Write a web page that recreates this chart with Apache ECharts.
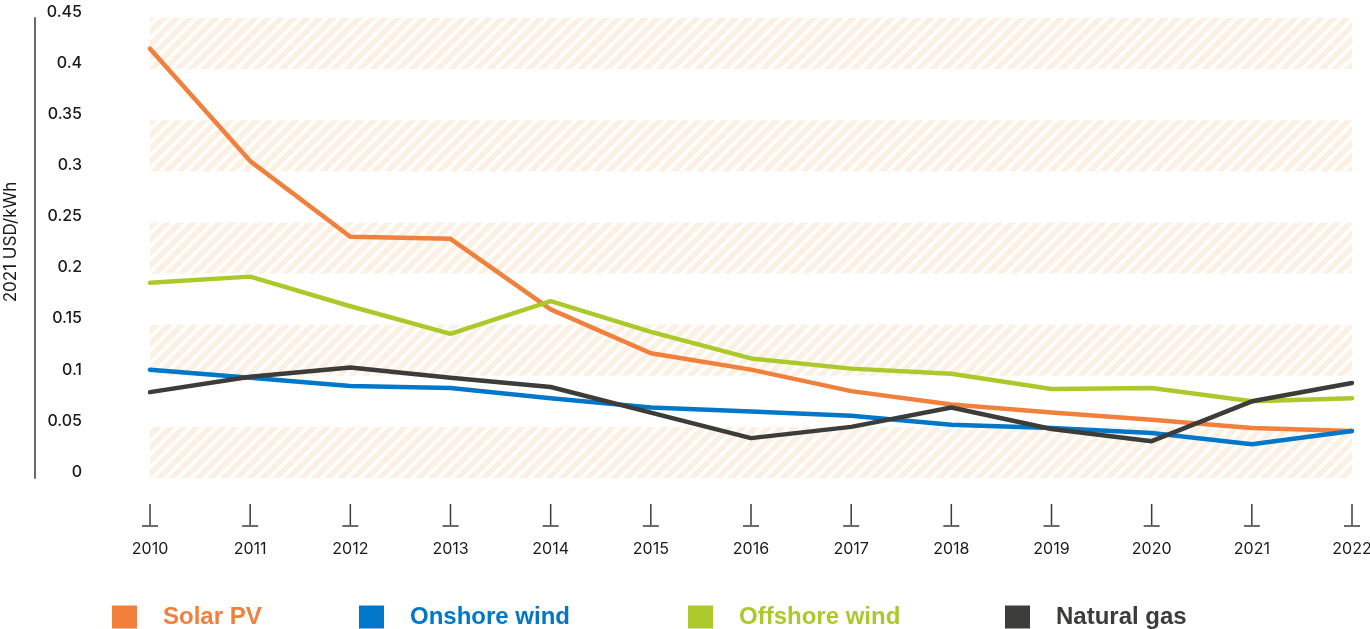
<!DOCTYPE html>
<html>
<head>
<meta charset="utf-8">
<title>LCOE 2010-2022</title>
<script src="https://cdn.jsdelivr.net/npm/echarts@6/dist/echarts.min.js"></script>
<style>
  html, body { margin: 0; padding: 0; background: #fff; }
  #chart { width: 1370px; height: 629px; }
</style>
</head>
<body>
<div id="chart"></div>
<script>
var years = ['2010', '2011', '2012', '2013', '2014', '2015', '2016', '2017', '2018', '2019', '2020', '2021', '2022'];
var solarPV = [0.420, 0.310, 0.236, 0.234, 0.165, 0.122, 0.106, 0.085, 0.072, 0.064, 0.057, 0.049, 0.046];
var onshoreWind = [0.106, 0.098, 0.090, 0.088, 0.078, 0.069, 0.065, 0.061, 0.052, 0.049, 0.044, 0.033, 0.046];
var offshoreWind = [0.191, 0.197, 0.168, 0.141, 0.173, 0.143, 0.117, 0.107, 0.102, 0.087, 0.088, 0.075, 0.078];
var naturalGas = [0.084, 0.099, 0.108, 0.098, 0.089, 0.064, 0.039, 0.050, 0.069, 0.048, 0.036, 0.075, 0.093];
var seriesNames = ['Solar PV', 'Onshore wind', 'Offshore wind', 'Natural gas'];
var seriesColors = ['#f0803c', '#0077c8', '#abc92a', '#3c3c3b'];

!function(){
	var dom = document.getElementById('chart');
	var myChart = echarts.init(dom, null, {renderer: 'canvas'});

	// diagonal stripe tile for the shaded bands
	function stripes() {
		var s = 13;
		var c = document.createElement('canvas');
		c.width = s; c.height = s;
		var ctx = c.getContext('2d');
		ctx.strokeStyle = '#fbf0e2';
		ctx.lineWidth = 5.5;
		ctx.beginPath();
		ctx.moveTo(0, s); ctx.lineTo(s, 0);
		ctx.moveTo(-s / 2, s / 2); ctx.lineTo(s / 2, -s / 2);
		ctx.moveTo(s / 2, s * 1.5); ctx.lineTo(s * 1.5, s / 2);
		ctx.stroke();
		return {image: c, repeat: 'repeat'};
	}

	var font = 'Inter, "Noto Sans", sans-serif';
	var legendLeft = [112, 359, 688, 1005];
	var legends = [];
	var series = [];
	var lists = [solarPV, onshoreWind, offshoreWind, naturalGas];
	for (var i = 0; i < seriesNames.length; i++) {
		legends.push({
			left: legendLeft[i],
			top: 605,
			padding: 0,
			itemWidth: 25,
			itemHeight: 23,
			itemGap: 0,
			icon: 'rect',
			selectedMode: false,
			data: [{name: seriesNames[i], textStyle: {color: seriesColors[i]}}],
			textStyle: {
				fontFamily: '"Liberation Sans", Arial, sans-serif',
				fontWeight: 'bold',
				fontSize: 24,
				padding: [0, 0, 0, 21]
			}
		});
		series.push({
			name: seriesNames[i],
			type: 'line',
			data: lists[i],
			symbol: 'none',
			color: seriesColors[i],
			lineStyle: {width: 4.5, cap: 'round', join: 'round'}
		});
	}

	var option = {
		animation: false,
		backgroundColor: '#fff',
		legend: legends,
		grid: {left: 150, right: 18, top: 18, bottom: 151, outerBoundsMode: 'none', containLabel: false},
		xAxis: {
			type: 'category',
			data: years,
			boundaryGap: false,
			axisLine: {show: false},
			axisTick: {show: false},
			axisLabel: {
				margin: 26,
				// tick stem + foot drawn as rich-text boxes above the year
				formatter: function (v) { return '{vt| }\n{bar| }\n{yr|' + v + '}'; },
				rich: {
					vt: {width: 1.5, height: 21, lineHeight: 21, backgroundColor: '#3a3a3a', fontSize: 1},
					bar: {width: 16, height: 1.5, lineHeight: 2, backgroundColor: '#3a3a3a', fontSize: 1},
					yr: {fontFamily: font, fontSize: 16, color: '#1a1a1a', lineHeight: 44}
				}
			}
		},
		yAxis: {
			type: 'value',
			min: 0,
			max: 0.45,
			interval: 0.05,
			offset: 115,
			name: '2021 USD/kWh',
			nameLocation: 'middle',
			nameGap: 16,
			nameTextStyle: {fontFamily: font, fontSize: 17, color: '#1a1a1a', padding: [0, 0, 0, 12]},
			axisLine: {show: true, lineStyle: {color: '#6b6b6b', width: 2}},
			axisTick: {show: false},
			splitLine: {show: false},
			splitArea: {show: true, areaStyle: {color: [stripes(), 'rgba(0,0,0,0)']}},
			axisLabel: {
				inside: true,
				align: 'right',
				margin: 47,
				verticalAlign: 'bottom',
				lineHeight: 12,
				fontFamily: font,
				fontSize: 16,
				fontWeight: 500,
				color: '#1a1a1a',
				formatter: function (v) { return String(+v.toFixed(2)); }
			}
		},
		series: series
	};

	myChart.setOption(option, true);
}();
</script>
</body>
</html>
